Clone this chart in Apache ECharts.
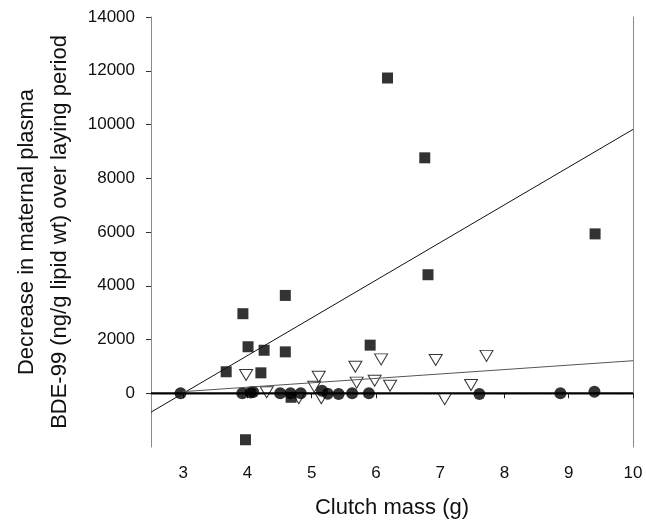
<!DOCTYPE html>
<html>
<head>
<meta charset="utf-8">
<script src="https://cdn.jsdelivr.net/npm/echarts@6/dist/echarts.min.js"></script>
<style>
  html, body { margin: 0; padding: 0; background: #fff; }
  #chart { width: 646px; height: 525px; }
</style>
</head>
<body>
<div id="chart"></div>
<script>
// clutch mass (g) vs decrease in maternal plasma BDE-99
const squarePts = [
  [3.67, 800], [3.93, 2960], [4.01, 1730], [4.26, 1600], [4.21, 760],
  [4.59, 3640], [4.59, 1540], [3.97, -1730], [4.68, -150], [6.18, 11730],
  [5.91, 1790], [6.76, 8760], [6.81, 4410], [9.41, 5930]
];
const circlePts = [
  [2.96, 0], [3.92, 0], [4.05, 30], [4.09, 50], [4.51, 0], [4.67, 0],
  [4.83, 0], [5.16, 90], [5.25, -20], [5.42, -30], [5.63, 0], [5.89, 0],
  [7.61, -30], [8.87, 0], [9.40, 60]
];
const trianglePts = [
  [3.98, 680], [4.30, 40], [4.80, -185], [5.04, 245], [5.11, 615],
  [5.15, -185], [5.68, 985], [5.70, 395], [5.98, 465], [6.08, 1260],
  [6.22, 280], [6.93, 1235], [7.07, -220], [7.48, 305], [7.72, 1390]
];
// fitted lines
const squareFit = [[2.5, -704], [10, 9817]];
const triangleFit = [[3, 60], [10, 1210]];
const circleFit = [[2.5, 0], [10, 0]];
const xTicks = [3, 4, 5, 6, 7, 8, 9, 10];
const yTicks = [0, 2000, 4000, 6000, 8000, 10000, 12000, 14000];

const chart = echarts.init(document.getElementById('chart'));
const font = 'Liberation Sans, Arial, sans-serif';
const axisGray = '#8a8a8a';

chart.setOption({
  animation: false,
  grid: { left: 151, right: 13, top: 17, bottom: 78, containLabel: false, outerBoundsMode: 'none' },
  xAxis: {
    type: 'value',
    min: 2.5,
    max: 10,
    name: 'Clutch mass (g)',
    nameLocation: 'middle',
    nameGap: 50,
    nameTextStyle: { fontFamily: font, fontSize: 22, color: '#111' },
    axisLine: { lineStyle: { color: axisGray, type: 'dotted', width: 1.5 } },
    axisTick: { customValues: xTicks, length: 5, lineStyle: { color: '#222' } },
    axisLabel: {
      customValues: xTicks, margin: 18, fontFamily: font, fontSize: 17, color: '#111',
      formatter: v => String(v)
    },
    splitLine: { show: false }
  },
  yAxis: [{
    type: 'value',
    min: -2000,
    max: 14000,
    interval: 2000,
    name: 'Decrease in maternal plasma\nBDE-99 (ng/g lipid wt) over laying period',
    nameLocation: 'middle',
    nameRotate: 90,
    nameGap: 58,
    nameTextStyle: { fontFamily: font, fontSize: 22, color: '#111', lineHeight: 33 },
    axisLine: { show: true, lineStyle: { color: axisGray } },
    axisTick: { customValues: yTicks, length: 5, lineStyle: { color: '#333' } },
    axisLabel: {
      customValues: yTicks, margin: 16, fontFamily: font, fontSize: 17, color: '#111',
      formatter: v => String(v)
    },
    splitLine: { show: false }
  }, {
    type: 'value',
    position: 'right',
    min: -2000,
    max: 14000,
    axisLine: { show: true, lineStyle: { color: axisGray } },
    axisTick: { show: false },
    axisLabel: { show: false },
    splitLine: { show: false }
  }],
  series: [
    {
      type: 'line', data: circleFit, symbol: 'none', silent: true,
      lineStyle: { color: '#000', width: 2 }
    },
    {
      type: 'line', data: squareFit, symbol: 'none', silent: true,
      lineStyle: { color: '#111', width: 1 }
    },
    {
      type: 'line', data: triangleFit, symbol: 'none', silent: true,
      lineStyle: { color: '#555', width: 1 }
    },
    {
      type: 'scatter', data: trianglePts, symbol: 'triangle', symbolRotate: 180,
      symbolSize: [13, 11],
      itemStyle: { color: '#fff', borderColor: '#000', borderWidth: 1 }
    },
    {
      type: 'scatter', data: circlePts, symbol: 'circle', symbolSize: 12,
      itemStyle: { color: '#000' }
    },
    {
      type: 'scatter', data: squarePts, symbol: 'rect', symbolSize: 11,
      itemStyle: { color: '#000' }
    }
  ]
});
</script>
</body>
</html>
